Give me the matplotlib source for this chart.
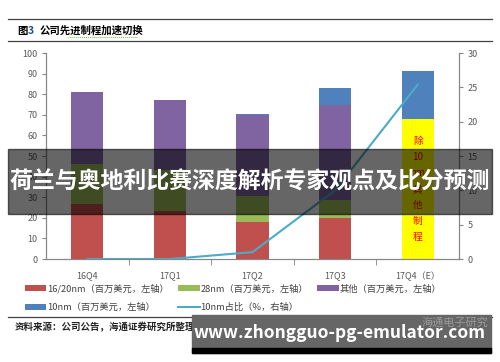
import numpy as np
import matplotlib.pyplot as plt
from matplotlib.patches import Rectangle
from matplotlib.lines import Line2D

plt.rcParams['font.family'] = ['Noto Sans CJK SC', 'DejaVu Sans']

quarters = ['16Q4', '17Q1', '17Q2', '17Q3', '17Q4（E）']
nm_16_20 = [26.5, 23.5, 18.0, 19.8, 0]
nm_28 = [19.5, 19.5, 12.5, 8.8, 0]
other = [35.0, 34.0, 39.2, 46.3, 0]
nm_10 = [0, 0, 0.5, 8.2, 23.3]
non10_17q4 = [0, 0, 0, 0, 68.0]
share_10nm = [0, 0, 1.0, 10.0, 25.4]

c_red = '#C0504D'
c_green = '#9BBB59'
c_purple = '#8064A2'
c_blue = '#4F81BD'
c_line = '#4BACC6'
grey = '#868686'

fig = plt.figure(figsize=(5, 3.62), dpi=100)
ax = fig.add_axes([0.092, 0.2845, 0.826, 0.569])
x = np.arange(len(quarters))
w = 0.39

b1 = ax.bar(x, nm_16_20, w, color=c_red)
bottom = np.array(nm_16_20)
b2 = ax.bar(x, nm_28, w, bottom=bottom, color=c_green)
bottom = bottom + nm_28
b3 = ax.bar(x, other, w, bottom=bottom, color=c_purple)
bottom = bottom + other
ax.bar(x, non10_17q4, w, bottom=bottom, color='#FFFF00')
bottom = bottom + non10_17q4
b4 = ax.bar(x, nm_10, w, bottom=bottom, color=c_blue)

ax.text(4, non10_17q4[4] / 2, '\n'.join(['除', '10', 'nm', '其', '他', '制', '程']),
        ha='center', va='center', color='#FF0000', fontsize=7, linespacing=1.75)

ax.set_xlim(-0.5, 4.5)
ax.set_ylim(0, 100)
ax.set_yticks(np.arange(0, 101, 10))
ax.set_xticks(x)
ax.set_xticklabels(quarters)
ax.set_xticks(np.arange(0.5, 4.5, 1), minor=True)
ax.tick_params(axis='x', which='major', length=0, pad=9, labelsize=6.5, labelcolor='#595959')
ax.tick_params(axis='x', which='minor', length=4, color=grey, direction='out')
ax.tick_params(axis='y', length=3, color=grey, labelsize=6.5, labelcolor='#595959', pad=3)

ax2 = ax.twinx()
l1, = ax2.plot(x, share_10nm, color=c_line, lw=1.5)
ax2.set_ylim(0, 30)
ax2.set_yticks(np.arange(0, 31, 5))
ax2.tick_params(axis='y', length=3, color=grey, labelsize=6.5, labelcolor='#595959', pad=3)

for a in (ax, ax2):
    a.spines['top'].set_visible(False)
    for s in ('left', 'right', 'bottom'):
        a.spines[s].set_color(grey)
        a.spines[s].set_linewidth(0.8)

handles = [b1, b4, b2, l1, b3]
labels = ['16/20nm（百万美元，左轴）', '10nm（百万美元，左轴）',
          '28nm（百万美元，左轴）', '10nm占比（%，右轴）',
          '其他（百万美元，左轴）']
fig.legend(handles, labels, ncol=3, loc='upper left', bbox_to_anchor=(0.042, 0.226),
           frameon=False, fontsize=6.7, handlelength=2.3, handleheight=0.6,
           handletextpad=0.1, columnspacing=1.0, labelspacing=1.0,
           labelcolor='#404040', borderaxespad=0)

# header and footer rules
for yy in (1 - 19 / 362, 1 - 41 / 362, 1 - 317 / 362):
    fig.add_artist(Line2D([0.016, 0.984], [yy, yy], color='#404040', lw=0.9))
fig.text(0.034, 1 - 31 / 362, '图', fontsize=7.5, fontweight='bold', va='center')
fig.text(0.055, 1 - 31 / 362, '3', fontsize=7.5, fontweight='bold', va='center', color='#1F4E99')
fig.text(0.08, 1 - 31 / 362, '公司先进制程加速切换', fontsize=7.5, fontweight='bold', va='center')
fig.add_artist(Line2D([0.136, 0.276], [1 - 37 / 362, 1 - 37 / 362], color='#6BBF3A',
                      lw=0.7, ls=(0, (1, 1))))
fig.text(0.03, 1 - 327 / 362, '资料来源：公司公告，海通证券研究所整理', fontsize=6.8,
         fontweight='bold', va='center', color='#222222')

# overlay banner
fig.add_artist(Rectangle((0.016, 1 - 214 / 362), 0.968, 65 / 362, transform=fig.transFigure,
                         color='black', alpha=0.6, zorder=10))
fig.text(0.5, 1 - 182 / 362, '荷兰与奥地利比赛深度解析专家观点及比分预测', fontsize=16.5,
         fontweight='bold', color='white', ha='center', va='center', zorder=11)

# url box
fig.add_artist(Rectangle((0.384, 1 - 353 / 362), 0.598, 38 / 362, transform=fig.transFigure,
                         color='#666666', zorder=10))
fig.add_artist(Rectangle((0.384, 1 - 353 / 362), 0.598, 5 / 362, transform=fig.transFigure,
                         color='black', zorder=10))
fig.text(0.91, 1 - 323 / 362, '海通电子研究', fontsize=8, color='#9a9a9a',
         ha='center', va='center', zorder=11)
fig.text(0.68, 1 - 333 / 362, 'www.zhongguo-pg-emulator.com', fontsize=12.5,
         fontweight='bold', color='white', ha='center', va='center', zorder=12)

fig.savefig('out.png', dpi=100)
